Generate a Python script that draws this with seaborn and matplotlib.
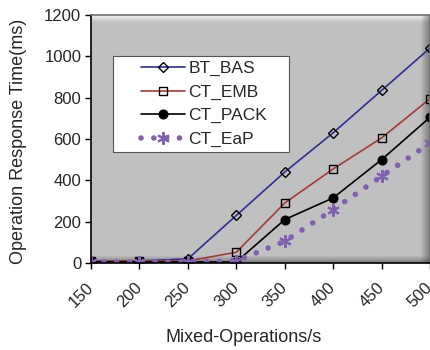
import matplotlib
matplotlib.use("Agg")
import matplotlib.pyplot as plt
from matplotlib.lines import Line2D
from matplotlib.patches import Rectangle
from matplotlib.legend_handler import HandlerLine2D
import seaborn as sns
import pandas as pd

x_vals = [150, 200, 250, 300, 350, 400, 450, 500]
bt_bas = [10, 10, 20, 230, 440, 630, 835, 1040]
ct_emb = [10, 10, 10, 52, 290, 455, 605, 795]
ct_pack = [5, 5, 5, 5, 210, 315, 500, 705]
ct_eap = [5, 5, 5, 10, 105, 258, 420, 580]
series_names = ["BT_BAS", "CT_EMB", "CT_PACK", "CT_EaP"]
x_ticks = [150, 200, 250, 300, 350, 400, 450, 500]
y_ticks = [0, 200, 400, 600, 800, 1000, 1200]

sns.set_style("ticks")
plt.rcParams["font.family"] = ["Liberation Sans", "DejaVu Sans"]

df = pd.DataFrame({
    "x": x_vals * 4,
    "y": bt_bas + ct_emb + ct_pack + ct_eap,
    "series": sum([[n] * len(x_vals) for n in series_names], []),
})

fig = plt.figure(figsize=(4.31, 3.5), dpi=100)
ax_w_px, ax_h_px = 430 - 91, 263 - 15
ax = fig.add_axes([91 / 431, 1 - 263 / 350, ax_w_px / 431, ax_h_px / 350])
ax.set_facecolor("#c0c0c0")

# 3D-wall style bevel shading (decoration only)
n_top, n_right, n_bot = 7, 9, 7
for i in range(n_top):
    a = 0.75 * (1 - i / n_top)
    ax.add_patch(Rectangle((0, 1 - (i + 1) / ax_h_px), 1, 1 / ax_h_px,
                           transform=ax.transAxes, facecolor="white", alpha=a,
                           edgecolor="none", zorder=0.5))
for i in range(n_right):
    a = 0.55 * (i + 1) / n_right
    ax.add_patch(Rectangle((1 - (n_right - i) / ax_w_px, 0), 1 / ax_w_px, 1,
                           transform=ax.transAxes, facecolor="black", alpha=a * 0.6,
                           edgecolor="none", zorder=0.5))
for i in range(n_bot):
    a = 0.35 * (i + 1) / n_bot
    ax.add_patch(Rectangle((0, (n_bot - 1 - i) / ax_h_px), 1, 1 / ax_h_px,
                           transform=ax.transAxes, facecolor="black", alpha=a,
                           edgecolor="none", zorder=0.5))

styles = {
    "BT_BAS": dict(color="#2e2e92", marker="D", markersize=5, markerfacecolor="none",
                   markeredgecolor="black", markeredgewidth=1.0, linewidth=1.2),
    "CT_EMB": dict(color="#a43a3a", marker="s", markersize=6, markerfacecolor="none",
                   markeredgecolor="black", markeredgewidth=1.0, linewidth=1.2),
    "CT_PACK": dict(color="black", marker="o", markersize=6.5, markerfacecolor="black",
                    markeredgecolor="black", linewidth=1.2),
    "CT_EaP": dict(color="#8060b0", marker=(6, 2, 0), markersize=9,
                   markeredgecolor="#8060b0", markeredgewidth=1.5, linewidth=4,
                   linestyle=(0, (0.01, 2.3)), dash_capstyle="round"),
}

for name in series_names:
    sub = df[df["series"] == name]
    sns.lineplot(data=sub, x="x", y="y", ax=ax, label=name, **styles[name])

ax.set_xlim(150, 500)
ax.set_ylim(0, 1200)
ax.set_xticks(x_ticks)
ax.set_yticks(y_ticks)
ax.set_xticklabels([str(t) for t in x_ticks], rotation=45, ha="right", va="center",
                   rotation_mode="anchor", fontsize=12)
ax.set_yticklabels([str(t) for t in y_ticks], fontsize=12)
ax.tick_params(axis="both", direction="out", length=4, width=1, color="black", pad=3)
ax.tick_params(axis="x", pad=12)
ax.set_xlabel("Mixed-Operations/s", fontsize=13)
ax.set_ylabel("Operation Response Time(ms)", fontsize=13)
ax.xaxis.set_label_coords(0.45, -0.265)
ax.yaxis.set_label_coords(-0.19, 0.49)

for s in ["left", "bottom"]:
    ax.spines[s].set_color("black")
    ax.spines[s].set_linewidth(1.2)
for s in ["top", "right"]:
    ax.spines[s].set_color("#707070")
    ax.spines[s].set_linewidth(1.2)

leg = ax.legend(loc="upper left", bbox_to_anchor=(0.065, 0.0, 0.519, 0.835),
                mode="expand", fontsize=12.5,
                frameon=True, fancybox=False, framealpha=1, edgecolor="#555555",
                handlelength=3.85, handletextpad=0.2, borderpad=0.3,
                labelspacing=0.47, borderaxespad=0,
                handler_map={Line2D: HandlerLine2D(xpad=1.3)})
leg.get_frame().set_linewidth(0.8)

fig.savefig("out.png", dpi=100)
